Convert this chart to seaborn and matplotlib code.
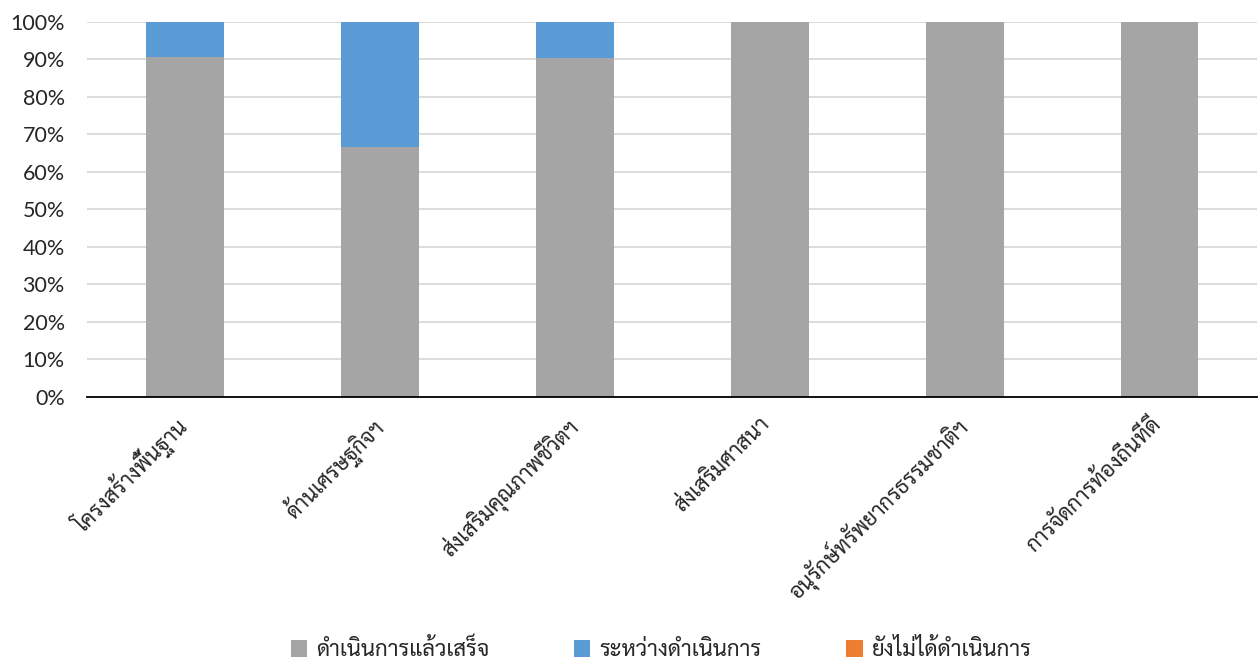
import matplotlib
matplotlib.use('Agg')
import matplotlib.pyplot as plt
import matplotlib.transforms as mtransforms
import seaborn as sns
import pandas as pd
import numpy as np
from matplotlib.patches import Patch

categories = ["โครงสร้างพื้นฐาน", "ด้านเศรษฐกิจฯ", "ส่งเสริมคุณภาพชีวิตฯ",
              "ส่งเสริมศาสนา", "อนุรักษ์ทรัพยากรธรรมชาติฯ", "การจัดการท้องถิ่นที่ดี"]
done = [90.6, 66.7, 90.3, 100.0, 100.0, 100.0]
in_progress = [9.4, 33.3, 9.7, 0.0, 0.0, 0.0]
not_started = [0.0, 0.0, 0.0, 0.0, 0.0, 0.0]
series_names = ["ดำเนินการแล้วเสร็จ", "ระหว่างดำเนินการ", "ยังไม่ได้ดำเนินการ"]
colors = ["#a5a5a5", "#5b9bd5", "#ed7d31"]
yticks = [0, 10, 20, 30, 40, 50, 60, 70, 80, 90, 100]

sns.set_theme(style="white")
plt.rcParams['font.family'] = ['Sarabun', 'DejaVu Sans']

fig = plt.figure(figsize=(12.58, 6.62), dpi=100)
ax = fig.add_axes([0.0692, 0.4003, 0.9300, 0.5665])

s1 = np.array(done)
s2 = s1 + np.array(in_progress)
s3 = s2 + np.array(not_started)
df = pd.DataFrame({"cat": categories, "c1": s1, "c2": s2, "c3": s3})

for col, c in zip(["c3", "c2", "c1"], colors[::-1]):
    sns.barplot(data=df, x="cat", y=col, order=categories, color=c,
                width=0.4, saturation=1, ax=ax, linewidth=0, zorder=3)

ax.set_xlim(-0.5, len(categories) - 0.5)
ax.set_ylim(0, 100)
ax.set_yticks(yticks)
ax.set_yticklabels([f"{v}%" for v in yticks], family=['Lato', 'DejaVu Sans'], fontsize=15.5)
ax.tick_params(axis='y', length=0, pad=16)
ax.tick_params(axis='x', length=0, pad=8)
ax.set_xlabel("")
ax.set_ylabel("")
ax.yaxis.grid(True, color="#d9d9d9", linewidth=1.3, zorder=0)
ax.set_axisbelow(True)
for s in ["left", "right", "top"]:
    ax.spines[s].set_visible(False)
ax.spines["bottom"].set_color("#000000")
ax.spines["bottom"].set_linewidth(1.3)
ax.spines["bottom"].set_zorder(5)

ax.set_xticks(range(len(categories)))
ax.set_xticklabels(categories, rotation=45, ha='right', rotation_mode='anchor',
                   fontsize=15.5, family=['Sarabun', 'DejaVu Sans'])
offset = mtransforms.ScaledTranslation(-0.10, -0.05, fig.dpi_scale_trans)
for lbl in ax.get_xticklabels():
    lbl.set_transform(lbl.get_transform() + offset)

handles = [Patch(facecolor=c, edgecolor='none') for c in colors]
fig.legend(handles, series_names, loc='center', ncol=3, frameon=False,
           bbox_to_anchor=(0.5254, 0.018), prop={'family': ['Sarabun', 'DejaVu Sans'], 'size': 16},
           handlelength=0.75, handleheight=0.75, columnspacing=3.8, handletextpad=0.4)

fig.savefig("out.png", dpi=100)
